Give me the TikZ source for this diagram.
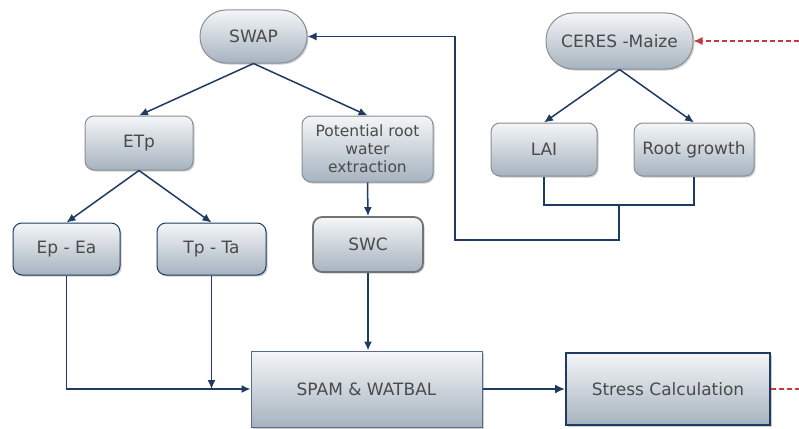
\documentclass[tikz,border=0pt]{standalone}
\usepackage{fontspec}
\setmainfont{DejaVu Sans}
\usetikzlibrary{arrows.meta,shadows}
\definecolor{navy}{HTML}{1F3B63}
\definecolor{boxtop}{HTML}{F4F6F8}
\definecolor{boxbot}{HTML}{A6B3BF}
\definecolor{txt}{HTML}{4A4A4A}
\definecolor{greyline}{HTML}{8A8F96}
\definecolor{feed}{HTML}{C8393B}
\begin{document}
\begin{tikzpicture}[x=1pt,y=-1pt,
    blk/.style={draw=#1,line width=1pt,top color=boxtop,bottom color=boxbot,
      text=txt,font=\fontsize{17}{20}\selectfont,inner sep=0pt,align=center,
      drop shadow={shadow xshift=1.5pt,shadow yshift=-1.5pt,opacity=0.4}},
    pill/.style={blk=greyline,rounded corners=26pt},
    rbox/.style={blk=#1,rounded corners=9pt},
    sbox/.style={blk=#1},
    link/.style={draw=navy,line width=1.5pt,-{Latex[length=9pt,width=8pt]}},
    bus/.style={draw=navy,line width=2pt},
    feedline/.style={draw=feed,line width=1.2pt,dash pattern=on 5pt off 3pt}]
    \path[use as bounding box,fill=white] (0,0) rectangle (799,428);

    \node[pill,minimum width=107pt,minimum height=53pt] (swap) at (253.5,36.5) {SWAP};
    \node[pill,rounded corners=27pt,minimum width=147pt,minimum height=56pt] (ceres) at (619.5,41) {CERES -Maize};
    \node[rbox=greyline,minimum width=108pt,minimum height=54pt] (etp) at (139,143) {ETp};
    \node[rbox=greyline,minimum width=131pt,minimum height=66pt,font=\fontsize{15.5}{18}\selectfont] (pot) at (367.5,149) {Potential root\\water\\extraction};
    \node[rbox=greyline,minimum width=106pt,minimum height=53pt] (lai) at (544,149.5) {LAI};
    \node[rbox=greyline,minimum width=120pt,minimum height=53pt] (root) at (694,149.5) {Root growth};
    \node[rbox=navy,minimum width=107pt,minimum height=52pt] (ep) at (66.5,249) {Ep - Ea};
    \node[rbox=navy,minimum width=109pt,minimum height=52pt] (tp) at (211.5,249) {Tp - Ta};
    \node[rbox=black!55,line width=1.8pt,minimum width=110pt,minimum height=55pt] (swc) at (368,244.5) {SWC};
    \node[sbox=navy!75,minimum width=231pt,minimum height=76pt] (spam) at (366.5,389) {SPAM \& WATBAL};
    \node[sbox=navy,line width=1.8pt,minimum width=204pt,minimum height=72pt] (stress) at (668,389) {Stress Calculation};

    \coordinate (jn) at (619,205);
    \coordinate (fb) at (455,240);
    \coordinate (inR) at (799,41);
    \coordinate (outR) at (799,389);

    \draw[link] (swap.south) -- (etp.north);
    \draw[link] (swap.south) -- (pot.north);
    \draw[link] (etp.south) -- (ep.north);
    \draw[link] (etp.south) -- (tp.north);
    \draw[link] (pot.south) -- (swc.north);
    \draw[link] (ceres.south) -- (lai.north);
    \draw[link] (ceres.south) -- (root.north);
    \draw[bus] (lai.south) |- (jn) -| (root.south);
    \draw[link] (jn) |- (fb) |- (swap.east);
    \draw[link] (ep.south) |- (spam.west);
    \draw[link] (tp.south) -- (tp.south |- spam.west);
    \draw[link] (swc.south) -- (swc.south |- spam.north);
    \draw[link,line width=2.2pt,-{Latex[length=10pt,width=9pt]}] (spam.east) -- (stress.west);
    \draw[feedline,-{Latex[length=9pt,width=8pt]}] (inR) -- (ceres.east);
    \draw[feedline] (stress.east) -- (outR);
\end{tikzpicture}
\end{document}
